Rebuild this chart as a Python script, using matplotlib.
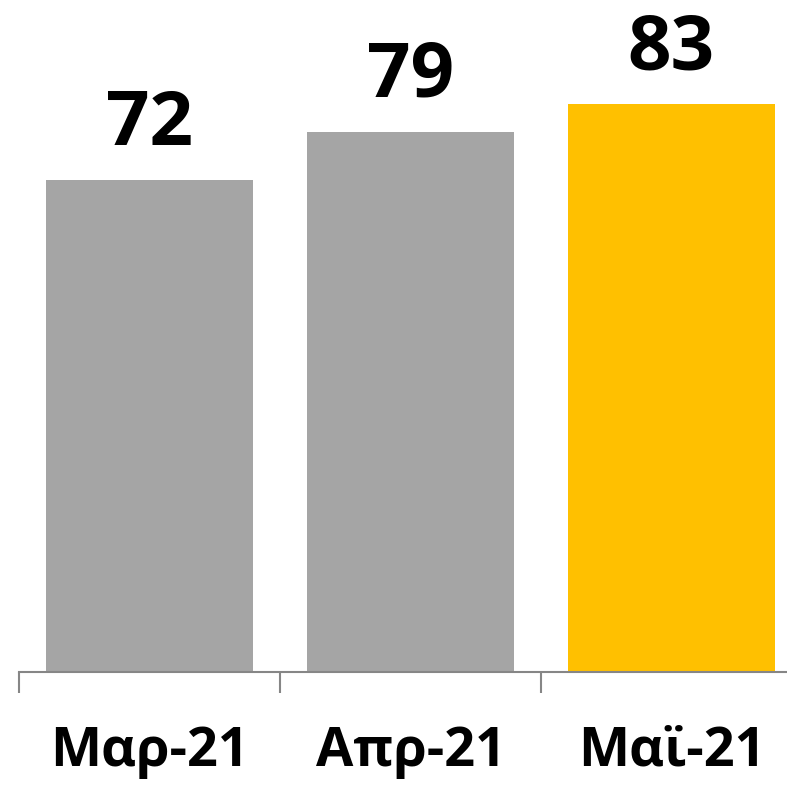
import matplotlib
matplotlib.use("Agg")
import matplotlib.pyplot as plt

categories = ["Μαρ-21", "Απρ-21", "Μαϊ-21"]
values = [72, 79, 83]
colors = ["#A5A5A5", "#A5A5A5", "#FFC000"]

plt.rcParams['font.family'] = ['Open Sans', 'DejaVu Sans']

W, H = 787, 785
fig = plt.figure(figsize=(W / 100, H / 100), dpi=100)
ax = fig.add_axes([19 / W, (H - 672) / H, 783 / W, 672 / H])

x = list(range(len(categories)))
ax.bar(x, values, width=0.79, color=colors)
ax.set_xlim(-0.5, 2.5)
ax.set_ylim(0, 672 / 6.84)

for xi, v in zip(x, values):
    ax.annotate(str(v), (xi, v), xytext=(0, 25), textcoords='offset points',
                ha='center', va='baseline', fontsize=55, fontweight='bold', color='black')

for s in ['top', 'right', 'left']:
    ax.spines[s].set_visible(False)
ax.spines['bottom'].set_color('#868686')
ax.spines['bottom'].set_linewidth(1.5)
ax.set_yticks([])
ax.set_xticks(x)
ax.set_xticklabels(categories, fontsize=39, fontweight='bold', color='black')
ax.tick_params(axis='x', which='major', length=0, pad=38)
ax.set_xticks([-0.5, 0.5, 1.5, 2.5], minor=True)
ax.tick_params(axis='x', which='minor', length=15, width=1.5, color='#868686')

fig.savefig("out.png", dpi=100)
